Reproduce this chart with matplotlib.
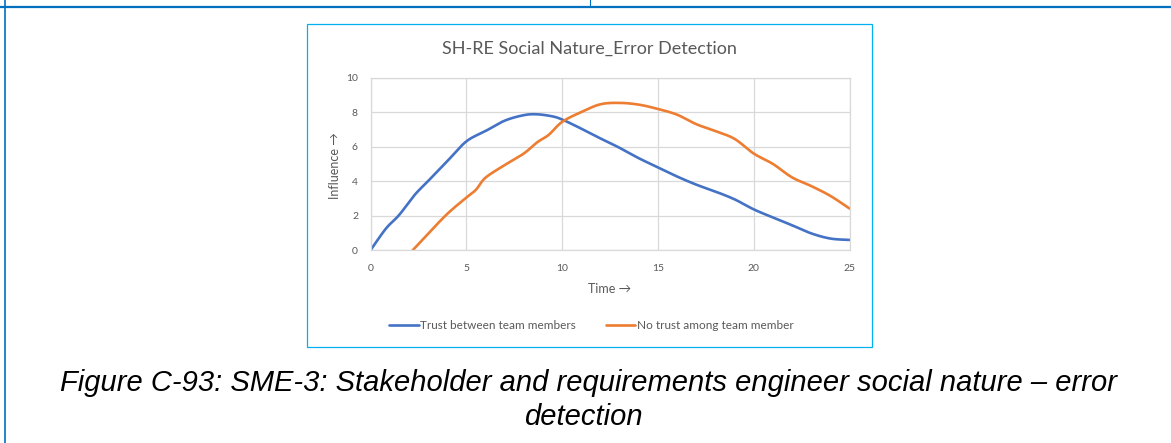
import matplotlib
matplotlib.use('Agg')
import matplotlib.pyplot as plt
import numpy as np
from matplotlib.patches import Rectangle

plt.rcParams['font.family'] = ['Lato', 'DejaVu Sans']

# Trust between team members
time_trust = [0, 0.8, 1.5, 2.3, 3, 4, 5, 6, 7, 8, 8.7, 9.5, 10, 10.8, 11.5, 12.5,
              13, 14, 15, 16, 17, 18, 19, 20, 21, 22, 23, 24, 25]
trust = [0, 1.25, 2.05, 3.2, 4.0, 5.15, 6.3, 6.9, 7.5, 7.82, 7.87, 7.75, 7.57, 7.15, 6.75, 6.2,
         5.93, 5.33, 4.8, 4.27, 3.8, 3.4, 2.95, 2.37, 1.9, 1.45, 0.98, 0.68, 0.6]

# No trust among team member
time_no_trust = [2.2, 3, 4, 5, 5.5, 6, 7, 8, 8.7, 9.3, 10, 11, 12, 13, 14, 15,
                 16, 17, 18, 19, 20, 21, 22, 23, 24, 25]
no_trust = [0, 0.95, 2.1, 3.05, 3.5, 4.2, 4.93, 5.6, 6.25, 6.68, 7.43, 8.0, 8.45, 8.53, 8.43, 8.18,
            7.85, 7.3, 6.9, 6.45, 5.6, 5.0, 4.22, 3.72, 3.15, 2.42]

x_ticks = [0, 5, 10, 15, 20, 25]
y_ticks = [0, 2, 4, 6, 8, 10]


def smooth_line(xs, ys, steps=24):
    # smoothed line: cubic bezier through every point, handles at 1/6 of the neighbour span
    pts = np.column_stack([xs, ys]).astype(float)
    pts = np.vstack([pts[0], pts, pts[-1]])
    t = np.linspace(0, 1, steps)[:, None]
    out = []
    for i in range(1, len(pts) - 2):
        p0, p1, p2, p3 = pts[i - 1], pts[i], pts[i + 1], pts[i + 2]
        c1 = p1 + (p2 - p0) / 6
        c2 = p2 - (p3 - p1) / 6
        seg = (1 - t) ** 3 * p1 + 3 * (1 - t) ** 2 * t * c1 + 3 * (1 - t) * t ** 2 * c2 + t ** 3 * p2
        out.append(seg if i == 1 else seg[1:])
    seg = np.vstack(out)
    return seg[:, 0], seg[:, 1]


W, H = 1171, 443
fig = plt.figure(figsize=(W / 100, H / 100), dpi=100)

# page background: table borders, chart frame and caption
bg = fig.add_axes([0, 0, 1, 1])
bg.set_xlim(0, W)
bg.set_ylim(H, 0)
bg.axis('off')
bg.plot([0, W], [6.5, 6.5], color='#0070C0', lw=1.6, solid_capstyle='butt')
bg.plot([590, 590], [0, 6], color='#0070C0', lw=0.8)
bg.plot([4.5, 4.5], [0, H], color='#0070C0', lw=1.2)
bg.add_patch(Rectangle((307, 24), 565, 323, facecolor='white', edgecolor='#00B0F0', lw=0.9))

bg.text(589.5, 49, 'SH-RE Social Nature_Error Detection', ha='center', va='center',
        fontsize=13, color='#595959')
bg.text(610, 289, 'Time →', ha='center', va='center', fontsize=9, color='#595959')
bg.text(335, 165.5, 'Influence →', ha='center', va='center', rotation=90, fontsize=9, color='#595959')

cap_font = dict(family='Liberation Sans', style='italic', fontsize=21, color='black',
                ha='center', va='baseline')
bg.text(589, 390.7, 'Figure C-93: SME-3: Stakeholder and requirements engineer social nature – error',
        **cap_font)
bg.text(583, 425, 'detection', **cap_font)

# chart
ax = fig.add_axes([370.5 / W, 1 - 250.3 / H, 479 / W, 172.8 / H])
ax.set_facecolor('white')
sx, sy = smooth_line(time_trust, trust)
ax.plot(sx, sy, color='#4472C4', lw=1.9, label='Trust between team members', solid_capstyle='round')
sx, sy = smooth_line(time_no_trust, no_trust)
ax.plot(sx, sy, color='#ED7D31', lw=1.9, label='No trust among team member', solid_capstyle='round')

ax.set_xlim(0, 25)
ax.set_ylim(0, 10)
ax.set_xticks(x_ticks)
ax.set_yticks(y_ticks)
ax.grid(color='#D9D9D9', lw=0.9)
ax.set_axisbelow(True)
for s in ax.spines.values():
    s.set_color('#D9D9D9')
    s.set_linewidth(0.9)
ax.tick_params(length=0, labelsize=7.5, labelcolor='#595959')
ax.tick_params(axis='x', pad=10)
ax.tick_params(axis='y', pad=9)

ax.legend(loc='center', bbox_to_anchor=(591.5 / W, 1 - 325.7 / H), bbox_transform=fig.transFigure,
          ncol=2, frameon=False, fontsize=8.5, handlelength=2.5, handletextpad=0.15,
          columnspacing=2.5, labelcolor='#595959')

fig.savefig('out.png', dpi=100)
